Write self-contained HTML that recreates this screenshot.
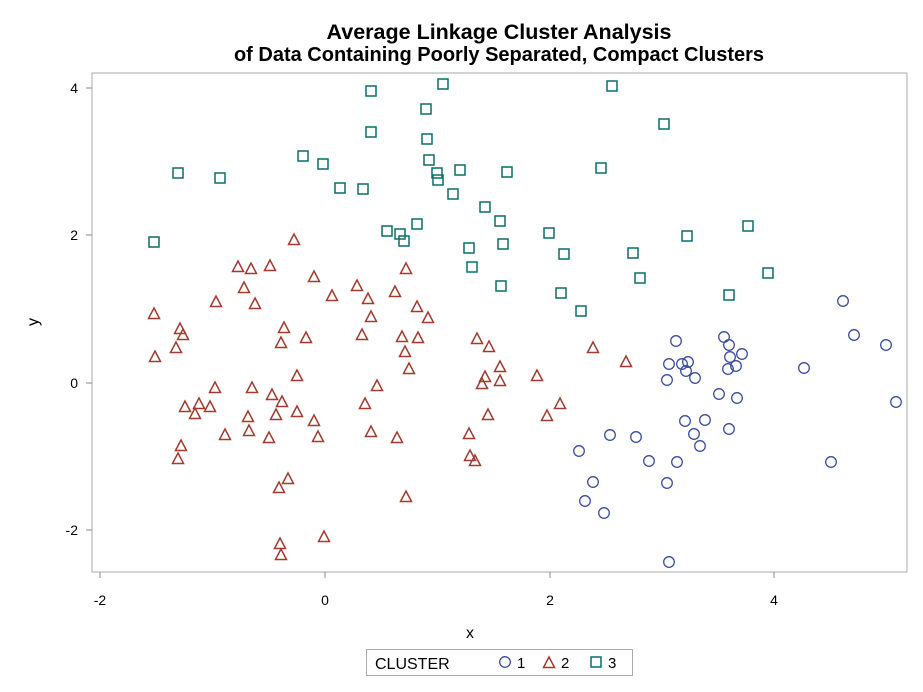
<!DOCTYPE html>
<html><head><style>body{margin:0;background:#fff}svg{display:block}</style></head><body>
<svg width="923" height="692" xmlns="http://www.w3.org/2000/svg" font-family="Liberation Sans, sans-serif">
<rect width="923" height="692" fill="#fff"/>
<text x="499" y="39" text-anchor="middle" font-size="21.5" font-weight="bold">Average Linkage Cluster Analysis</text>
<text x="499" y="61" text-anchor="middle" font-size="20" font-weight="bold">of Data Containing Poorly Separated, Compact Clusters</text>
<rect x="92" y="73" width="815" height="499" fill="none" stroke="#aaa" stroke-width="1"/>
<g stroke="#888" stroke-width="1">
<line x1="86" y1="88" x2="92" y2="88"/><line x1="86" y1="235" x2="92" y2="235"/><line x1="86" y1="383" x2="92" y2="383"/><line x1="86" y1="530" x2="92" y2="530"/>
<line x1="100" y1="572" x2="100" y2="578"/><line x1="325" y1="572" x2="325" y2="578"/><line x1="550" y1="572" x2="550" y2="578"/><line x1="774" y1="572" x2="774" y2="578"/>
</g>
<g font-size="14" text-anchor="end">
<text x="78" y="93">4</text><text x="78" y="240">2</text><text x="78" y="388">0</text><text x="78" y="535">-2</text>
</g>
<g font-size="14" text-anchor="middle">
<text x="100" y="605">-2</text><text x="325" y="605">0</text><text x="550" y="605">2</text><text x="774" y="605">4</text>
</g>
<text x="470" y="638" font-size="16" text-anchor="middle">x</text>
<text transform="translate(38,322) rotate(-90)" font-size="16" text-anchor="middle">y</text>
<defs>
<rect id="s" x="-5" y="-5" width="10" height="10" fill="none" stroke="#0b6e69" stroke-width="1.5"/>
<path id="t" d="M0,-6 L5.5,4.5 L-5.5,4.5 Z" fill="none" stroke="#a23a2e" stroke-width="1.5"/>
<circle id="c" r="5.3" fill="none" stroke="#3b4ca0" stroke-width="1.3"/>
</defs>
<g>
<use href="#s" x="178" y="173"/><use href="#s" x="220" y="178"/><use href="#s" x="154" y="242"/><use href="#s" x="303" y="156"/><use href="#s" x="323" y="164"/><use href="#s" x="340" y="188"/><use href="#s" x="363" y="189"/><use href="#s" x="371" y="91"/><use href="#s" x="371" y="132"/><use href="#s" x="443" y="84"/><use href="#s" x="426" y="109"/><use href="#s" x="427" y="139"/><use href="#s" x="429" y="160"/><use href="#s" x="437" y="173"/><use href="#s" x="438" y="180"/><use href="#s" x="460" y="170"/><use href="#s" x="453" y="194"/><use href="#s" x="485" y="207"/><use href="#s" x="417" y="224"/><use href="#s" x="387" y="231"/><use href="#s" x="400" y="234"/><use href="#s" x="404" y="241"/><use href="#s" x="469" y="248"/><use href="#s" x="472" y="267"/><use href="#s" x="500" y="221"/><use href="#s" x="507" y="172"/><use href="#s" x="503" y="244"/><use href="#s" x="501" y="286"/><use href="#s" x="612" y="86"/><use href="#s" x="664" y="124"/><use href="#s" x="601" y="168"/><use href="#s" x="549" y="233"/><use href="#s" x="564" y="254"/><use href="#s" x="633" y="253"/><use href="#s" x="640" y="278"/><use href="#s" x="561" y="293"/><use href="#s" x="581" y="311"/><use href="#s" x="687" y="236"/><use href="#s" x="748" y="226"/><use href="#s" x="768" y="273"/><use href="#s" x="729" y="295"/>
</g>
<g>
<use href="#t" x="294" y="240"/><use href="#t" x="238" y="267"/><use href="#t" x="251" y="269"/><use href="#t" x="270" y="266"/><use href="#t" x="314" y="277"/><use href="#t" x="244" y="288"/><use href="#t" x="216" y="302"/><use href="#t" x="255" y="304"/><use href="#t" x="154" y="314"/><use href="#t" x="332" y="296"/><use href="#t" x="357" y="286"/><use href="#t" x="368" y="299"/><use href="#t" x="406" y="269"/><use href="#t" x="395" y="292"/><use href="#t" x="417" y="307"/><use href="#t" x="371" y="317"/><use href="#t" x="428" y="318"/>
<use href="#t" x="180" y="329"/><use href="#t" x="183" y="335"/><use href="#t" x="176" y="348"/><use href="#t" x="155" y="357"/><use href="#t" x="284" y="328"/><use href="#t" x="281" y="343"/><use href="#t" x="306" y="338"/><use href="#t" x="362" y="335"/><use href="#t" x="402" y="337"/><use href="#t" x="418" y="338"/><use href="#t" x="405" y="352"/><use href="#t" x="409" y="369"/><use href="#t" x="477" y="339"/><use href="#t" x="489" y="347"/><use href="#t" x="500" y="367"/><use href="#t" x="485" y="377"/><use href="#t" x="482" y="384"/><use href="#t" x="500" y="381"/><use href="#t" x="488" y="415"/><use href="#t" x="469" y="434"/><use href="#t" x="470" y="456"/><use href="#t" x="475" y="461"/><use href="#t" x="297" y="376"/><use href="#t" x="215" y="388"/><use href="#t" x="252" y="388"/><use href="#t" x="272" y="395"/><use href="#t" x="282" y="402"/><use href="#t" x="185" y="407"/><use href="#t" x="199" y="404"/><use href="#t" x="195" y="414"/><use href="#t" x="210" y="407"/><use href="#t" x="248" y="417"/><use href="#t" x="276" y="415"/><use href="#t" x="297" y="412"/><use href="#t" x="314" y="421"/><use href="#t" x="249" y="431"/><use href="#t" x="225" y="435"/><use href="#t" x="269" y="438"/><use href="#t" x="318" y="437"/><use href="#t" x="181" y="446"/><use href="#t" x="178" y="459"/><use href="#t" x="288" y="479"/><use href="#t" x="279" y="488"/><use href="#t" x="406" y="497"/><use href="#t" x="324" y="537"/><use href="#t" x="280" y="544"/><use href="#t" x="281" y="555"/><use href="#t" x="377" y="386"/><use href="#t" x="365" y="404"/><use href="#t" x="371" y="432"/><use href="#t" x="397" y="438"/>
<use href="#t" x="537" y="376"/><use href="#t" x="560" y="404"/><use href="#t" x="547" y="416"/><use href="#t" x="593" y="348"/><use href="#t" x="626" y="362"/>
</g>
<g>
<use href="#c" x="676" y="341"/><use href="#c" x="724" y="337"/><use href="#c" x="729" y="345"/><use href="#c" x="742" y="354"/><use href="#c" x="730" y="357"/><use href="#c" x="736" y="366"/><use href="#c" x="728" y="369"/><use href="#c" x="669" y="364"/><use href="#c" x="682" y="364"/><use href="#c" x="688" y="362"/><use href="#c" x="686" y="371"/><use href="#c" x="667" y="380"/><use href="#c" x="695" y="378"/><use href="#c" x="719" y="394"/><use href="#c" x="737" y="398"/><use href="#c" x="685" y="421"/><use href="#c" x="705" y="420"/><use href="#c" x="694" y="434"/><use href="#c" x="729" y="429"/><use href="#c" x="700" y="446"/><use href="#c" x="610" y="435"/><use href="#c" x="636" y="437"/><use href="#c" x="579" y="451"/><use href="#c" x="649" y="461"/><use href="#c" x="677" y="462"/><use href="#c" x="593" y="482"/><use href="#c" x="667" y="483"/><use href="#c" x="585" y="501"/><use href="#c" x="604" y="513"/><use href="#c" x="669" y="562"/><use href="#c" x="804" y="368"/><use href="#c" x="854" y="335"/><use href="#c" x="886" y="345"/><use href="#c" x="896" y="402"/><use href="#c" x="831" y="462"/><use href="#c" x="843" y="301"/>
</g>
<rect x="366.5" y="649.5" width="266" height="26" fill="none" stroke="#aaa"/>
<text x="375" y="669" font-size="16">CLUSTER</text>
<use href="#c" x="505" y="662"/><text x="517" y="668" font-size="15">1</text>
<use href="#t" x="549" y="663"/><text x="561" y="668" font-size="15">2</text>
<use href="#s" x="596" y="662"/><text x="608" y="668" font-size="15">3</text>
</svg>
</body></html>
